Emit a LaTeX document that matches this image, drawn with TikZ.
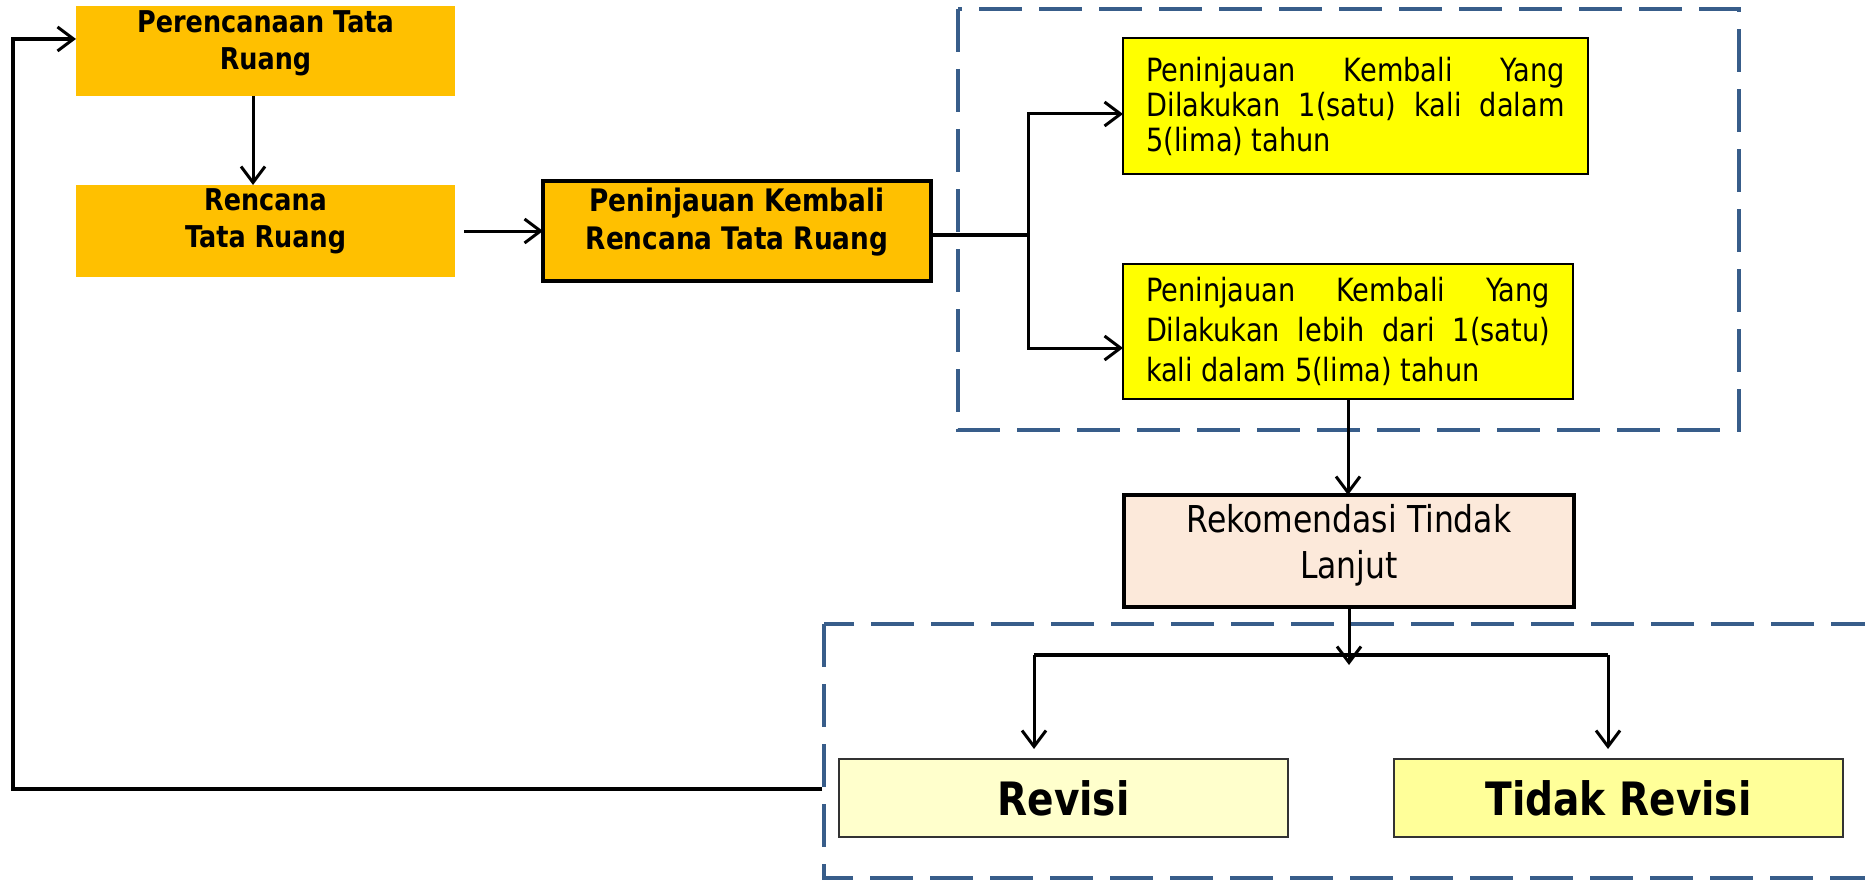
\documentclass[tikz,border=0pt]{standalone}
\usepackage{fontspec}
\setmainfont{DejaVu Sans}[FakeStretch=0.85]
\usetikzlibrary{arrows.meta}
\definecolor{orangebox}{HTML}{FFC000}
\definecolor{yelbox}{HTML}{FFFF00}
\definecolor{peach}{HTML}{FCE9DA}
\definecolor{paleyel}{HTML}{FFFFCC}
\definecolor{midyel}{HTML}{FFFF99}
\definecolor{grpblue}{HTML}{385D8A}
\begin{document}
\begin{tikzpicture}[x=1pt,y=-1pt,
  box/.style={rectangle, outer sep=0pt, inner sep=3pt, align=center, text=black},
  orangeb/.style={box, fill=orangebox, font=\bfseries\fontsize{30}{37}\selectfont},
  yelb/.style={box, fill=yelbox, draw=black, line width=1.5pt, align=left},
  resb/.style={box, draw=black!80, line width=1.2pt, font=\bfseries\fontsize{46}{50}\selectfont},
  grp/.style={draw=grpblue, line width=4.5pt, dash pattern=on 43pt off 17pt},
  conn/.style={line width=4pt},
  arr/.style={line width=3pt, -{Straight Barb[length=16pt,width=24pt,line width=3pt]}},
  fb/.style={line width=3.5pt, -{Straight Barb[length=16pt,width=24pt,line width=3pt]}}
]
\useasboundingbox (0,0) rectangle (1865,880);
\clip (0,0) rectangle (1865,880);

% group frames
\draw[grp] (958,9) rectangle (1739,430);
\draw[grp] (824,624) rectangle (1905,878);

% boxes
\node[orangeb, minimum width=379pt, minimum height=90pt, text depth=21.8pt] (p1) at (265.5,51) {Perencanaan Tata\\Ruang};
\node[orangeb, minimum width=379pt, minimum height=92pt, inner sep=1.5pt, text depth=26.8pt] (p2) at (265.5,231) {Rencana\\Tata Ruang};
\node[orangeb, draw=black, line width=4.5pt, minimum width=388pt, minimum height=100pt, text depth=23.6pt, font=\bfseries\fontsize{31}{38}\selectfont] (p3) at (737,231) {Peninjauan Kembali\\Rencana Tata Ruang};

\node[yelb, minimum width=465pt, minimum height=136pt, font=\fontsize{32}{35}\selectfont] (y1) at (1355.5,106)
  {\makebox[418pt][s]{Peninjauan Kembali Yang}\\\makebox[418pt][s]{Dilakukan 1(satu) kali dalam}\\5(lima) tahun};
\node[yelb, minimum width=450pt, minimum height=135pt, font=\fontsize{32}{40}\selectfont] (y2) at (1348,331.5)
  {\makebox[404pt][s]{Peninjauan Kembali Yang}\\\makebox[404pt][s]{Dilakukan lebih dari 1(satu)}\\kali dalam 5(lima) tahun};

\node[box, fill=peach, draw=black, line width=4.5pt, minimum width=450pt, minimum height=112pt, text depth=20pt, font=\fontsize{37}{46}\selectfont] (rek) at (1349,551) {Rekomendasi Tindak\\Lanjut};

\node[resb, fill=paleyel, minimum width=449pt, minimum height=78pt] (rev) at (1063.5,798) {Revisi};
\node[resb, fill=midyel, minimum width=449pt, minimum height=78pt] (tdk) at (1618.5,798) {Tidak Revisi};

% connectors
\draw[arr] ([xshift=-12.5pt]p1.south) -- ([xshift=-12.5pt]p2.north);
\draw[arr] ([xshift=9pt]p2.east) -- (p3.west);

\coordinate (br) at (1028,235);
\draw[conn] ([yshift=-4pt]p3.east) -- (br);
\draw[arr] (br) |- ([yshift=-8pt]y1.west);
\draw[arr] (br) |- ([yshift=-16.5pt]y2.west);

\draw[arr] (y2.south) -- (y2.south |- rek.north);

\coordinate (spltip) at (1349,665);
\coordinate (sl) at (1034,655);
\coordinate (sr) at (1608,655);
\draw[arr] (rek.south) -- (spltip);
\draw[conn] (sl) -- (sr);
\draw[arr] (sl) -- ([xshift=-29.5pt,yshift=10pt]rev.north);
\draw[arr] (sr) -- ([xshift=-10.5pt,yshift=10pt]tdk.north);

% feedback
\coordinate (fbstart) at (822,789);
\coordinate (fbcorner) at (13,789);
\draw[fb] (fbstart) -- (fbcorner) |- ([yshift=12pt]p1.west);
\end{tikzpicture}
\end{document}
